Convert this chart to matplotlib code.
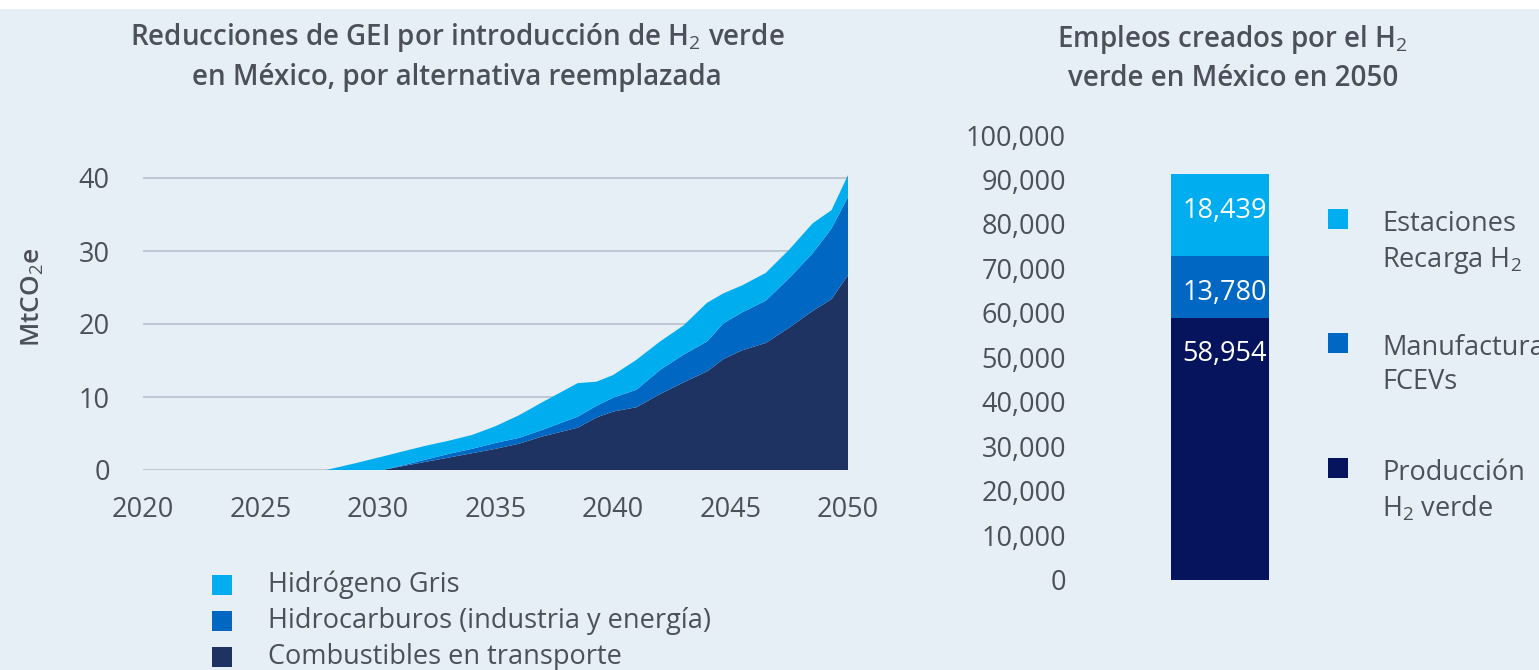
import matplotlib
matplotlib.use('Agg')
import matplotlib.pyplot as plt
from matplotlib.patches import Rectangle

plt.rcParams['font.family'] = ['Open Sans', 'DejaVu Sans']
plt.rcParams['mathtext.fontset'] = 'custom'
plt.rcParams['mathtext.rm'] = 'Open Sans'
plt.rcParams['mathtext.it'] = 'Open Sans'
plt.rcParams['mathtext.bf'] = 'Open Sans:bold'

# GHG reductions (MtCO2e), stacked layers
years = [2020, 2027.8, 2029, 2030.2, 2031, 2032, 2033, 2034, 2035, 2036, 2037,
         2038.5, 2039.3, 2040, 2041, 2042, 2043, 2044, 2044.7, 2045.5, 2046.5,
         2047.5, 2048.5, 2049.3, 2050]
transporte = [0, 0, 0, 0, 0.5, 1.1, 1.7, 2.3, 2.9, 3.6, 4.6,
              5.8, 7.2, 8.0, 8.6, 10.4, 12.0, 13.5, 15.2, 16.4, 17.4,
              19.5, 21.8, 23.4, 26.7]
hidrocarburos = [0, 0, 0, 0, 0.1, 0.3, 0.5, 0.6, 0.8, 0.8, 0.9,
                 1.5, 1.6, 1.9, 2.4, 3.3, 3.8, 4.1, 4.9, 5.2, 5.8,
                 6.8, 7.9, 9.7, 10.7]
gris = [0, 0, 0.9, 1.85, 1.9, 1.9, 1.8, 1.9, 2.3, 3.1, 3.8,
        4.6, 3.3, 3.1, 4.1, 3.9, 4.0, 5.3, 4.1, 3.7, 3.8,
        3.9, 4.1, 2.5, 3.0]
area_labels = ['Hidrógeno Gris', 'Hidrocarburos (industria y energía)',
               'Combustibles en transporte']
area_colors = ['#00AEEF', '#0068C2', '#1F3363']

# jobs created in 2050
job_labels = ['Producción\nH$_2$ verde', 'Manufactura\nFCEVs', 'Estaciones\nRecarga H$_2$']
job_values = [58954, 13780, 18439]
job_colors = ['#05145C', '#0068C2', '#00AEEF']

BG = '#E6EEF6'
TXT = '#4B505B'
GRID = '#B9C5D1'
W, H = 1539, 670

fig = plt.figure(figsize=(W / 100, H / 100), dpi=100, facecolor='white')
fig.add_artist(Rectangle((0, 0), 1, 1 - 9 / H, transform=fig.transFigure,
                         facecolor=BG, edgecolor='none', zorder=-10))

# ---- left: stacked area
ax = fig.add_axes([143 / W, 1 - 470 / H, 705 / W, 41 * 7.3 / H])
ax.set_facecolor('none')
ax.stackplot(years, transporte, hidrocarburos, gris,
             colors=area_colors[::-1], linewidth=0, zorder=3)
ax.set_xlim(2020, 2050)
ax.set_ylim(0, 41)
ax.set_yticks([0, 10, 20, 30, 40])
ax.set_xticks([2020, 2025, 2030, 2035, 2040, 2045, 2050])
ax.grid(axis='y', color=GRID, linewidth=1.3, zorder=0)
ax.grid(axis='x', visible=False)
for s in ax.spines.values():
    s.set_visible(False)
ax.tick_params(axis='y', length=0, pad=24, labelsize=19.5, labelcolor=TXT)
ax.tick_params(axis='x', length=0, pad=19, labelsize=19.5, labelcolor=TXT)

fig.text(33 / W, 1 - 297 / H, 'MtCO$_2$e', rotation=90, ha='center', va='center',
         fontsize=19, fontweight='semibold', color=TXT)
fig.text(457 / W, 1 - 38 / H, 'Reducciones de GEI por introducción de H$_2$ verde',
         ha='center', va='center', fontsize=20, fontweight='semibold', color=TXT)
fig.text(457 / W, 1 - 78 / H, 'en México, por alternativa reemplazada',
         ha='center', va='center', fontsize=20, fontweight='semibold', color=TXT)

# legend for the area chart
leg_y = [585, 621, 657]
for lab, col, yy in zip(area_labels, area_colors, leg_y):
    fig.add_artist(Rectangle((212 / W, 1 - (yy + 10) / H), 20 / W, 20 / H,
                             transform=fig.transFigure, facecolor=col, edgecolor='none'))
    fig.text(268 / W, 1 - yy / H, lab, ha='left', va='center',
             fontsize=19.5, color=TXT)

# ---- right: stacked bar
ax2 = fig.add_axes([1120 / W, 1 - 580 / H, 200 / W, 445 / H])
ax2.set_facecolor('none')
bottom = 0
for val, col in zip(job_values, job_colors):
    ax2.bar(0, val, width=0.49, bottom=bottom, color=col, edgecolor='none')
    ax2.annotate(f'{val:,}', xy=(0.235, bottom + val), xytext=(0, -26.5),
                 textcoords='offset points', ha='right', va='center',
                 fontsize=19.5, color='white')
    bottom += val
ax2.set_xlim(-0.5, 0.5)
ax2.set_ylim(0, 100000)
ax2.set_yticks(range(0, 100001, 10000))
ax2.set_yticklabels([f'{v:,}' for v in range(0, 100001, 10000)])
ax2.set_xticks([])
for s in ax2.spines.values():
    s.set_visible(False)
ax2.tick_params(axis='y', length=0, pad=39, labelsize=19.5, labelcolor=TXT)

fig.text(1233 / W, 1 - 39 / H, 'Empleos creados por el H$_2$',
         ha='center', va='center', fontsize=20, fontweight='semibold', color=TXT)
fig.text(1233 / W, 1 - 78 / H, 'verde en México en 2050',
         ha='center', va='center', fontsize=20, fontweight='semibold', color=TXT)

# legend for the bar (top entry first)
jleg_y = [219, 343, 468]
for lab, col, yy in zip(job_labels[::-1], job_colors[::-1], jleg_y):
    fig.add_artist(Rectangle((1328 / W, 1 - (yy + 10) / H), 20 / W, 20 / H,
                             transform=fig.transFigure, facecolor=col, edgecolor='none'))
    fig.text(1382 / W, 1 - (yy - 9) / H, lab, ha='left', va='top',
             fontsize=19.5, color=TXT, linespacing=1.3)

fig.savefig('out.png', dpi=100, facecolor='white')
